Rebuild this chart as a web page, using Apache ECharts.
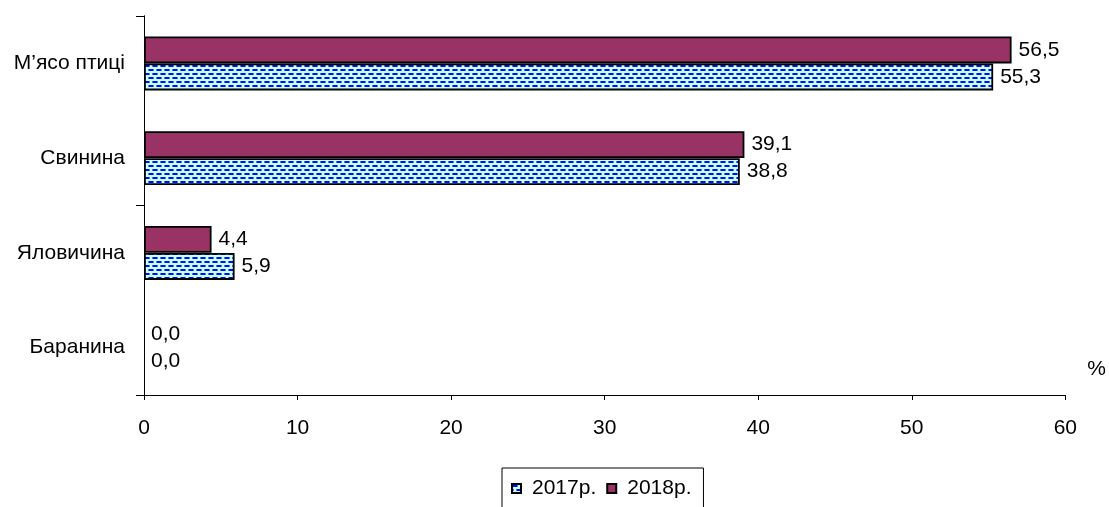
<!DOCTYPE html>
<html>
<head>
<meta charset="utf-8">
<script src="https://cdn.jsdelivr.net/npm/echarts@6/dist/echarts.min.js"></script>
<style>
html,body{margin:0;padding:0;background:#fff;}
#c{width:1109px;height:507px;}
</style>
</head>
<body>
<div id="c"></div>
<script>
var categories = ['Баранина', 'Яловичина', 'Свинина', 'М\u2019ясо птиці'];
var values2017 = [0.0, 5.9, 38.8, 55.3];
var values2018 = [0.0, 4.4, 39.1, 56.5];
var seriesNames = ['2017р.', '2018р.'];
var xTicks = [0, 10, 20, 30, 40, 50, 60];

function makePattern() {
  var c = document.createElement('canvas');
  c.width = 8; c.height = 8;
  var g = c.getContext('2d');
  g.fillStyle = '#c8ffff';
  g.fillRect(0, 0, 8, 8);
  g.fillStyle = '#5577ff';
  g.fillRect(0, 1, 6, 2);
  g.fillRect(4, 5, 4, 2);
  g.fillRect(0, 5, 2, 2);
  g.fillStyle = '#0011ee';
  g.fillRect(1, 1, 4, 2);
  g.fillRect(5, 5, 3, 2);
  g.fillRect(0, 5, 1, 2);
  return c;
}
var pattern = { image: makePattern(), repeat: 'repeat' };

function fmt(p) { return p.value.toFixed(1).replace('.', ','); }
function border(v) { return v === 0 ? 0 : 1.8; }

var chart = echarts.init(document.getElementById('c'));
var font = '"Liberation Sans", Arial, sans-serif';
var FS = 21;
function barData(vals) {
  return vals.map(function (v) { return { value: v, itemStyle: { borderWidth: border(v) } }; });
}
chart.setOption({
  animation: false,
  backgroundColor: '#fff',
  textStyle: { fontFamily: font },
  grid: { left: 144, right: 41, top: 16, bottom: 112 },
  legend: {
    data: seriesNames,
    left: 502,
    top: 468,
    padding: [10, 12, 40, 9],
    borderColor: '#000',
    borderWidth: 1,
    itemWidth: 9,
    itemHeight: 9,
    itemGap: 10,
    icon: 'rect',
    textStyle: { fontSize: FS, color: '#000', fontFamily: font, padding: [0, 2, 0, 6] }
  },
  xAxis: {
    type: 'value',
    min: xTicks[0],
    max: xTicks[xTicks.length - 1],
    interval: 10,
    name: '%',
    nameLocation: 'end',
    nameGap: 22,
    nameTextStyle: { fontSize: FS, color: '#000', verticalAlign: 'bottom', padding: [0, 0, 15, 0], fontFamily: font },
    axisLine: { show: true, lineStyle: { color: '#000', width: 1 } },
    axisTick: { show: true, length: 5, lineStyle: { color: '#000' } },
    axisLabel: { fontSize: FS, color: '#000', margin: 23, fontFamily: font },
    splitLine: { show: false }
  },
  yAxis: [
    {
      type: 'category',
      data: categories,
      axisLine: { show: true, lineStyle: { color: '#000', width: 1 } },
      axisTick: { show: false },
      axisLabel: { fontSize: FS, color: '#000', margin: 19, interval: 0, fontFamily: font }
    },
    {
      type: 'value',
      position: 'left',
      min: 0,
      max: 4,
      interval: 2,
      axisLine: { show: true, lineStyle: { color: '#000', width: 1 } },
      axisTick: { show: true, length: 8, lineStyle: { color: '#000' } },
      axisLabel: { show: false },
      splitLine: { show: false }
    }
  ],
  series: [
    {
      name: seriesNames[1],
      type: 'bar',
      data: barData(values2018),
      barWidth: 27,
      barGap: '0%',
      itemStyle: { color: '#993366', borderColor: '#000', borderWidth: 1.8 },
      label: { show: true, position: 'right', distance: 7, fontSize: FS, color: '#000', formatter: fmt, fontFamily: font }
    },
    {
      name: seriesNames[0],
      type: 'bar',
      data: barData(values2017),
      barWidth: 27,
      barGap: '0%',
      itemStyle: { color: pattern, borderColor: '#000', borderWidth: 1.8 },
      label: { show: true, position: 'right', distance: 7, fontSize: FS, color: '#000', formatter: fmt, fontFamily: font }
    }
  ]
});
</script>
</body>
</html>
